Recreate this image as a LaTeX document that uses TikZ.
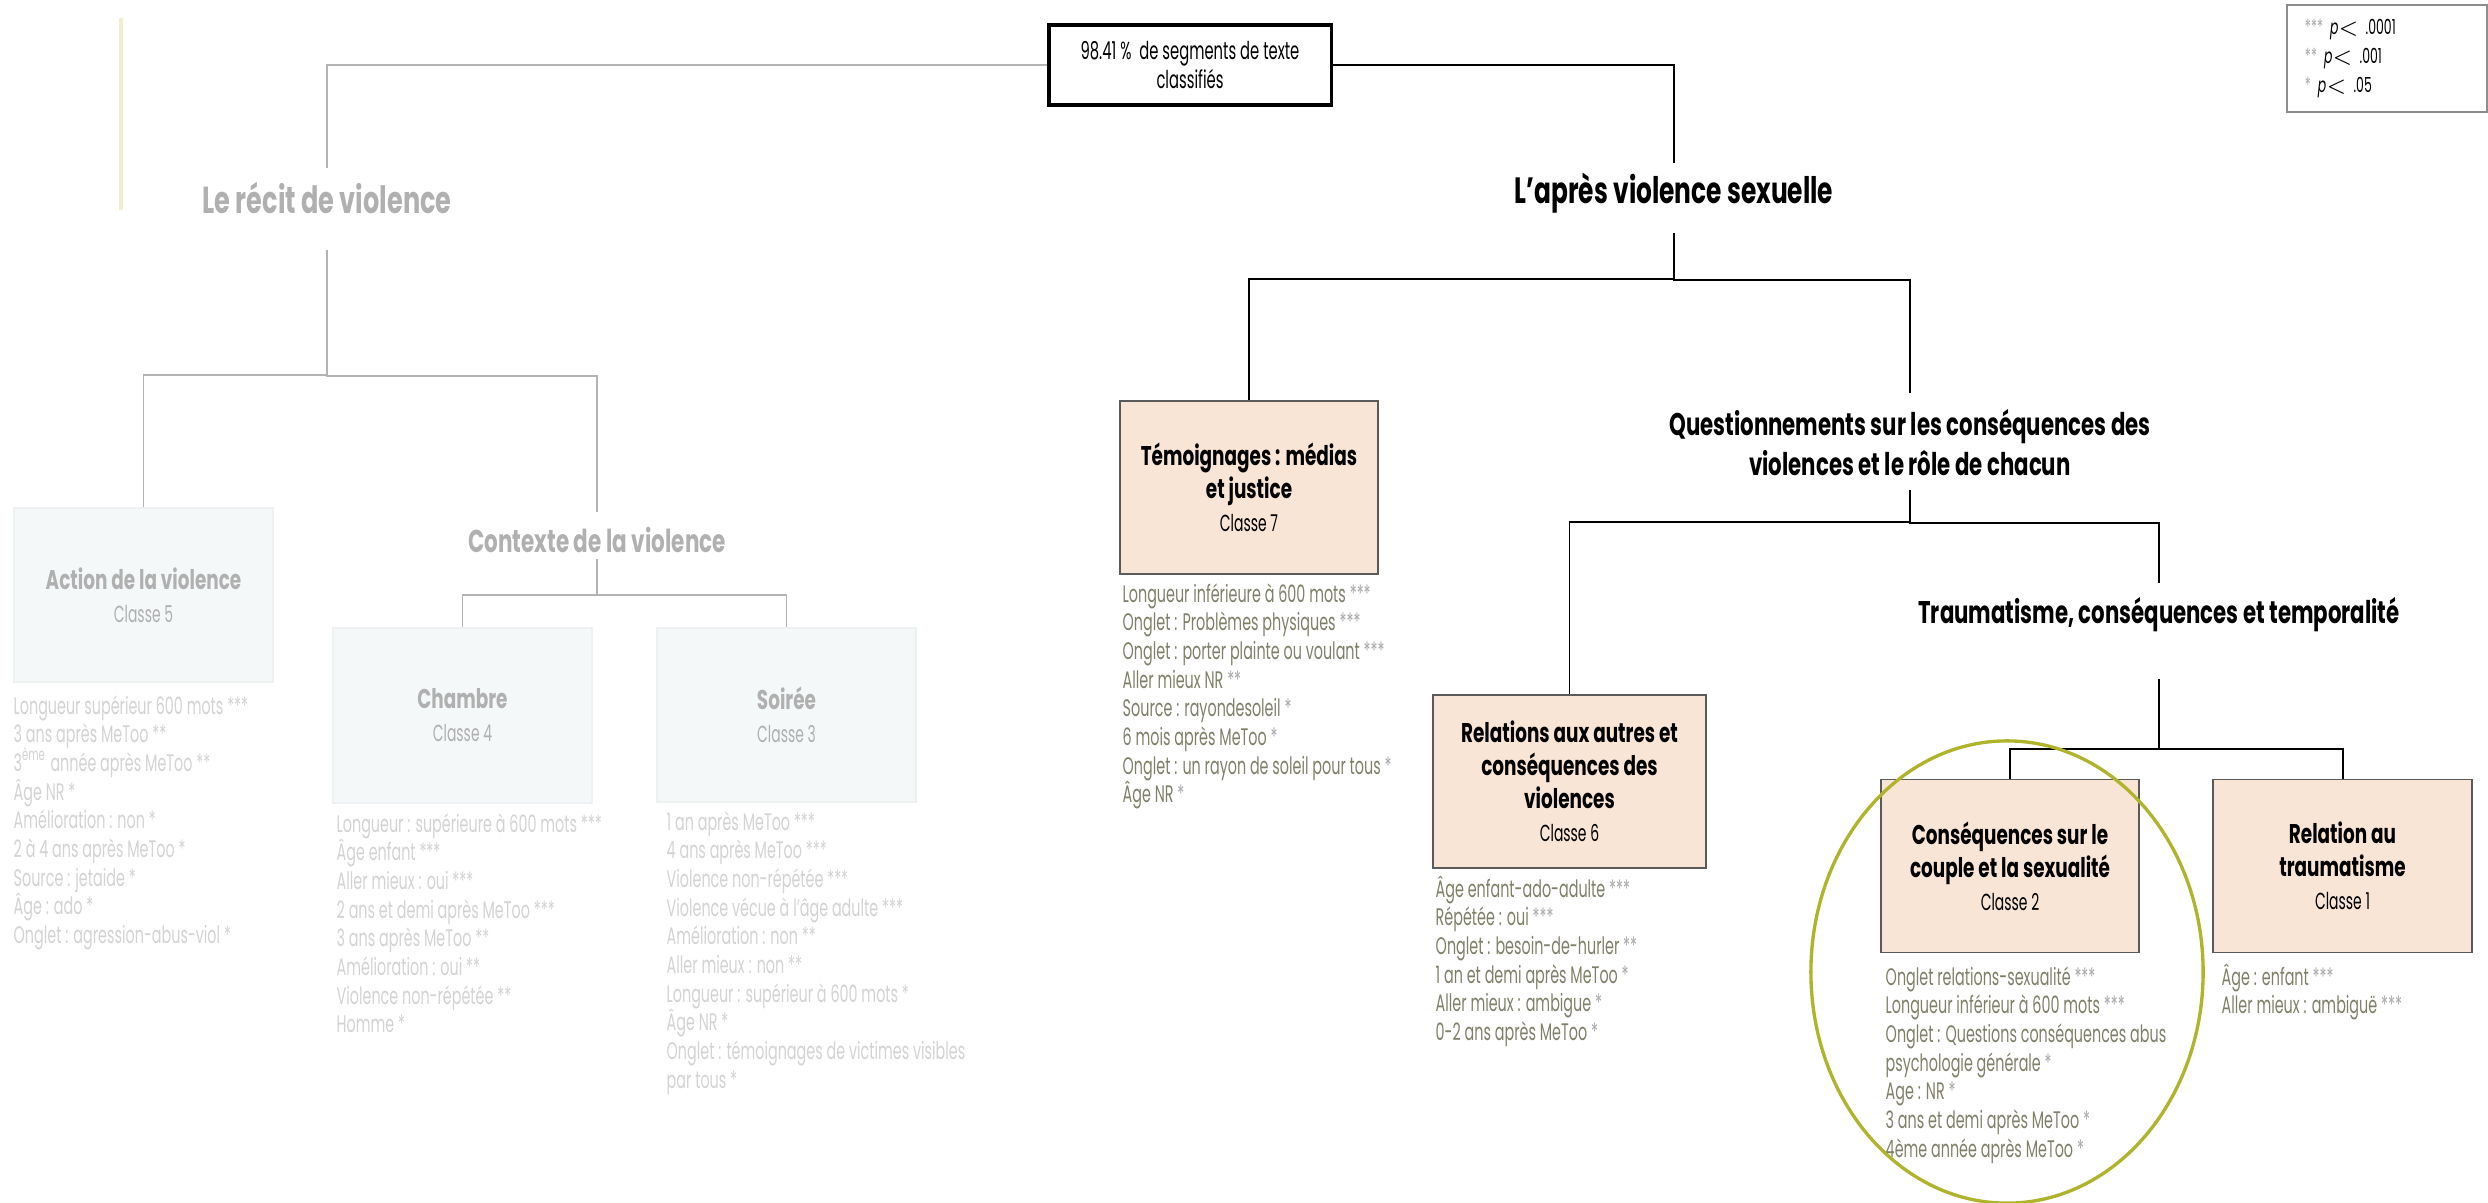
\documentclass[tikz,border=0pt]{standalone}
\usepackage{fontspec}
\setmainfont{Poppins}[FakeStretch=0.6,BoldFeatures={FakeStretch=0.68}]
\usetikzlibrary{positioning}

\definecolor{peach}{HTML}{F9E5D6}
\definecolor{boxline}{HTML}{5A5A5A}
\definecolor{itemcol}{HTML}{80806A}
\definecolor{starcol}{HTML}{A8A8A8}
\definecolor{fadefill}{HTML}{F5F8F9}
\definecolor{fadeedge}{HTML}{EDF1F2}
\definecolor{fadeline}{HTML}{B3B3B3}
\definecolor{fadetitle}{HTML}{B0B0B0}
\definecolor{fadeitem}{HTML}{D3D3D3}
\definecolor{legendline}{HTML}{8C8C8C}
\definecolor{paleyellow}{HTML}{F4EDCB}
\definecolor{olive}{HTML}{B0B42C}

\newcommand{\itemFont}{\fontsize{6.8}{8.2}\selectfont}
\newcommand{\titleFont}{\bfseries\fontsize{7.7}{9.4}\selectfont}
\newcommand{\classeFont}{\mdseries\fontsize{6.6}{8.8}\selectfont}
\newcommand{\branchFont}{\bfseries\fontsize{8.9}{11.4}\selectfont}
\newcommand{\rootFont}{\fontsize{7}{8.2}\selectfont}
\newcommand{\legendFont}{\fontsize{5.9}{8.3}\selectfont}
\newcommand{\stars}[1]{\textcolor{starcol}{#1}}

\tikzset{
	conn/.style={draw=black, line width=0.55pt},
	fadeconn/.style={draw=fadeline, line width=0.55pt},
	classbox/.style={draw=boxline, fill=peach, line width=0.45pt, minimum width=2.58cm, minimum height=1.73cm, align=center, font=\titleFont},
	fadebox/.style={classbox, draw=fadeedge, fill=fadefill, text=fadetitle},
	branch/.style={font=\branchFont, inner sep=0pt, align=center},
	fadebranch/.style={branch, text=fadetitle},
	item/.style={font=\itemFont, text=itemcol, anchor=base west, inner sep=0pt},
	fadeitem/.style={item, text=fadeitem},
}

\begin{document}
\begin{tikzpicture}[x=0.01cm, y=-0.01cm]
		\newcommand{\lineStep}{28.7}
		
		\useasboundingbox (0,0) rectangle (2488,1202);
		\fill[white] (0,0) rectangle (2488,1202);	% background
		\draw[paleyellow, line width=1pt] (121,18) -- (121,210);	% side mark
		
		% root and legend
		\node[draw, line width=0.9pt, minimum width=2.82cm, minimum height=0.8cm, align=center, font=\rootFont] (root) at (1190,65) {98.41 \%~ de segments de texte\\classifiés};
		\node[draw=legendline, line width=0.4pt, minimum height=1.07cm, text width=1.64cm, inner xsep=1.8mm, align=left, font=\legendFont] (legend) at (2387,58.5) {\stars{***} \textit{p}$<$ .0001\\\stars{**} \textit{p}$<$ .001\\\stars{*} \textit{p}$<$ .05};
		
		% branch titles
		\node[fadebranch, anchor=base, font=\bfseries\fontsize{10.7}{12}\selectfont] (recit) at (327,213) {Le récit de violence};
		\node[fadebranch, anchor=base, font=\bfseries\fontsize{9}{11}\selectfont] (contexte) at (597,552) {Contexte de la violence};
		\node[branch, anchor=base, font=\bfseries\fontsize{10.4}{12}\selectfont] (apres) at (1674,203) {L’après violence sexuelle};
		\node[branch] (quest) at (1910,443) {Questionnements sur les conséquences des\\violences et le rôle de chacun};
		\node[branch, anchor=base] (trauma) at (2159,623) {Traumatisme, conséquences et temporalité};
		
		% classes
		\node[fadebox, minimum width=2.59cm, minimum height=1.74cm] (c5) at (143.5,595) {Action de la violence\\{\classeFont Classe 5}};
		\node[fadebox, minimum width=2.59cm, minimum height=1.75cm] (c4) at (462.5,715.5) {Chambre\\{\classeFont Classe 4}};
		\node[fadebox, minimum width=2.59cm, minimum height=1.74cm] (c3) at (786.5,715) {Soirée\\{\classeFont Classe 3}};
		\node[classbox] (c7) at (1249,487.5) {Témoignages : médias\\et justice\\{\classeFont Classe 7}};
		\node[classbox, minimum width=2.73cm] (c6) at (1569.5,781.5) {Relations aux autres et\\conséquences des\\violences\\{\classeFont Classe 6}};
		\node[classbox] (c2) at (2010,866) {Conséquences sur le\\couple et la sexualité\\{\classeFont Classe 2}};
		\node[classbox, minimum width=2.59cm] (c1) at (2342.5,866) {Relation au\\traumatisme\\{\classeFont Classe 1}};
		
		% left tree (faded)
		\draw[fadeconn] (root.west) -| ([yshift=4.5mm]recit.base);
		\draw[fadeconn] ([yshift=-3.7mm]recit.base) |- ([yshift=13.2mm]c5.north) -- (c5.north);
		\draw[fadeconn] ([yshift=-3.7mm]recit.base) |- ([yshift=17.6mm]contexte.base) -- ([yshift=4mm]contexte.base);
		\draw[fadeconn] ([yshift=-0.7mm]contexte.base) |- ([yshift=3.2mm]c4.north) -- (c4.north);
		\draw[fadeconn] ([yshift=-0.7mm]contexte.base) |- ([yshift=3.2mm]c3.north) -- (c3.north);
		
		% right tree
		\draw[conn] (root.east) -| ([yshift=4mm]apres.base);
		\draw[conn] ([yshift=-3mm]apres.base) |- ([yshift=12.1mm]c7.north) -- (c7.north);
		\draw[conn] ([yshift=-3mm]apres.base) |- ([yshift=16.3mm]quest.center) -- ([yshift=5mm]quest.center);
		\draw[conn] ([yshift=-4.7mm]quest.center) |- ([yshift=17.2mm]c6.north) -- (c6.north);
		\draw[conn] ([yshift=-4.7mm]quest.center) |- ([yshift=10mm]trauma.base) -- ([yshift=4mm]trauma.base);
		\draw[conn] ([yshift=-5.6mm]trauma.base) |- ([yshift=3mm]c2.north) -- (c2.north);
		\draw[conn] ([yshift=-5.6mm]trauma.base) |- ([yshift=3mm]c1.north) -- (c1.north);
		
		% variables per class
		\foreach \txt [count=\i from 0] in {Longueur supérieur 600 mots ***, 3 ans après MeToo **, 3\textsuperscript{ème} année après MeToo **, Âge NR *, Amélioration : non *, 2 à 4 ans après MeToo *, Source : jetaide *, Âge : ado *, Onglet : agression-abus-viol *}
			\node[fadeitem] (c5v\i) at (13,714+\lineStep*\i) {\txt};
		\foreach \txt [count=\i from 0] in {Longueur : supérieure à 600 mots ***, Âge enfant ***, Aller mieux : oui ***, 2 ans et demi après MeToo ***, 3 ans après MeToo **, Amélioration : oui **, Violence non-répétée **, Homme *}
			\node[fadeitem] (c4v\i) at (336,832+\lineStep*\i) {\txt};
		\foreach \txt [count=\i from 0] in {1 an après MeToo ***, 4 ans après MeToo ***, Violence non-répétée ***, Violence vécue à l’âge adulte ***, Amélioration : non **, Aller mieux : non **, Longueur : supérieur à 600 mots *, Âge NR *, Onglet : témoignages de victimes visibles, par tous *}
			\node[fadeitem] (c3v\i) at (666,830+\lineStep*\i) {\txt};
		\foreach \txt [count=\i from 0] in {Longueur inférieure à 600 mots \stars{***}, Onglet : Problèmes physiques \stars{***}, Onglet : porter plainte ou voulant \stars{***}, Aller mieux NR \stars{**}, Source : rayondesoleil \stars{*}, 6 mois après MeToo \stars{*}, Onglet : un rayon de soleil pour tous \stars{*}, Âge NR \stars{*}}
			\node[item] (c7v\i) at (1122,602+\lineStep*\i) {\txt};
		\foreach \txt [count=\i from 0] in {Âge enfant-ado-adulte \stars{***}, Répétée : oui \stars{***}, Onglet : besoin-de-hurler \stars{**}, 1 an et demi après MeToo \stars{*}, Aller mieux : ambigue \stars{*}, 0-2 ans après MeToo \stars{*}}
			\node[item] (c6v\i) at (1435,897+\lineStep*\i) {\txt};
		\foreach \txt [count=\i from 0] in {Onglet relations-sexualité \stars{***}, Longueur inférieur à 600 mots \stars{***}, Onglet : Questions conséquences abus, psychologie générale \stars{*}, Age : NR \stars{*}, 3 ans et demi après MeToo \stars{*}, 4ème année après MeToo \stars{*}}
			\node[item] (c2v\i) at (1885,985+\lineStep*\i) {\txt};
		\foreach \txt [count=\i from 0] in {Âge : enfant \stars{***}, Aller mieux : ambiguë \stars{***}}
			\node[item] (c1v\i) at (2221,985+\lineStep*\i) {\txt};
		
		\draw[olive, line width=0.95pt] (2007,972) ellipse [x radius=1.96cm, y radius=2.31cm];	% highlight
\end{tikzpicture}
\end{document}
